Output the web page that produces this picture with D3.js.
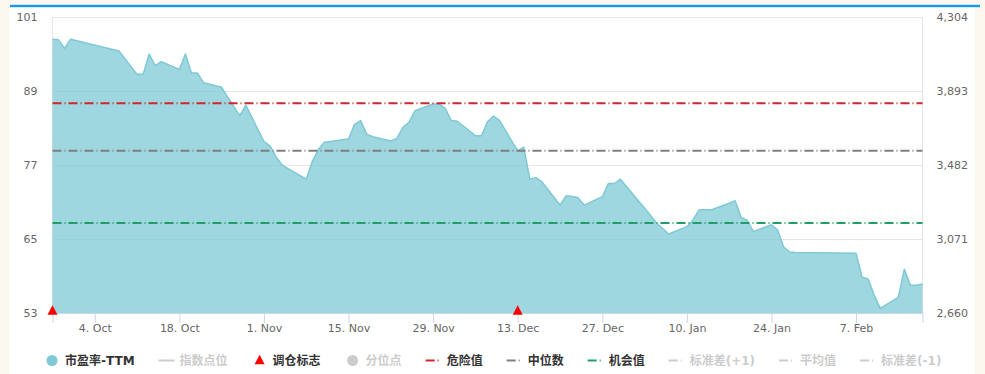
<!DOCTYPE html>
<html>
<head>
<meta charset="utf-8">
<script src="https://cdn.jsdelivr.net/npm/d3@7"></script>
<style>
  html, body { margin: 0; padding: 0; background: #fdf8ef; }
  svg { display: block; }
  text { font-family: "DejaVu Sans", "Noto Sans CJK SC", sans-serif; }
</style>
</head>
<body>
<svg id="chart" width="985" height="374"></svg>
<script>
// Trading days and PE-TTM readings
const tradeDates = [
  "2021-09-27","2021-09-28","2021-09-29","2021-09-30",
  "2021-10-08","2021-10-11","2021-10-12","2021-10-13","2021-10-14","2021-10-15",
  "2021-10-18","2021-10-19","2021-10-20","2021-10-21","2021-10-22",
  "2021-10-25","2021-10-26","2021-10-27","2021-10-28","2021-10-29",
  "2021-11-01","2021-11-02","2021-11-03","2021-11-04","2021-11-05",
  "2021-11-08","2021-11-09","2021-11-10","2021-11-11","2021-11-12",
  "2021-11-15","2021-11-16","2021-11-17","2021-11-18","2021-11-19",
  "2021-11-22","2021-11-23","2021-11-24","2021-11-25","2021-11-26",
  "2021-11-29","2021-11-30","2021-12-01","2021-12-02","2021-12-03",
  "2021-12-06","2021-12-07","2021-12-08","2021-12-09","2021-12-10",
  "2021-12-13","2021-12-14","2021-12-15","2021-12-16","2021-12-17",
  "2021-12-20","2021-12-21","2021-12-22","2021-12-23","2021-12-24",
  "2021-12-27","2021-12-28","2021-12-29","2021-12-30","2021-12-31",
  "2022-01-04","2022-01-05","2022-01-06","2022-01-07",
  "2022-01-10","2022-01-11","2022-01-12","2022-01-13","2022-01-14",
  "2022-01-17","2022-01-18","2022-01-19","2022-01-20","2022-01-21",
  "2022-01-24","2022-01-25","2022-01-26","2022-01-27","2022-01-28",
  "2022-02-07","2022-02-08","2022-02-09","2022-02-10","2022-02-11",
  "2022-02-14","2022-02-15","2022-02-16","2022-02-17","2022-02-18"
];
const peTTM = [
  97.4, 97.3, 95.9, 97.4,
  95.5, 91.7, 91.7, 95.0, 93.1, 93.75,
  92.5, 95.0, 91.9, 91.9, 90.35,
  89.6, 88.0, 86.5, 85.0, 86.7,
  80.8, 80.1, 78.3, 77.0, 76.4,
  74.7, 77.55, 79.5, 80.7, 80.8,
  81.2, 83.6, 84.2, 82.0, 81.6,
  80.9, 81.3, 83.1, 83.9, 85.8,
  86.9, 86.9, 86.2, 84.2, 84.1,
  81.75, 81.75, 84.0, 84.95, 84.2,
  79.3, 79.9, 74.7, 74.95, 74.3,
  70.5, 72.0, 71.9, 71.7, 70.5,
  71.85, 74.0, 74.0, 74.7, 73.5,
  68.8, 67.55, 66.7, 65.8,
  67.0, 68.1, 69.7, 69.8, 69.7,
  70.8, 71.2, 68.5, 68.0, 66.2,
  67.3, 66.5, 63.75, 62.9, 62.8,
  62.7, 58.8, 58.5, 55.9, 53.75,
  55.55, 60.1, 57.5, 57.5, 57.7
];

// Rebalance markers
const rebalanceDates = ["2021-09-27", "2021-12-13"];

// Reference levels: danger, median, opportunity
const refNames = ["危险值", "中位数", "机会值"];
const refValues = [87.0, 79.3, 67.6];

// Axis ticks
const peTicks = [53, 65, 77, 89, 101];
const indexTicks = [2660, 3071, 3482, 3893, 4304];
const dateTicks = ["2021-10-04","2021-10-18","2021-11-01","2021-11-15","2021-11-29",
                   "2021-12-13","2021-12-27","2022-01-10","2022-01-24","2022-02-07"];

// Legend entries
const legendNames = ["市盈率-TTM", "指数点位", "调仓标志", "分位点", "危险值",
                     "中位数", "机会值", "标准差(+1)", "平均值", "标准差(-1)"];

const parse = d3.timeParse("%Y-%m-%d");
const series = tradeDates.map((d, i) => ({ date: parse(d), v: peTTM[i] }));

const svg = d3.select("#chart");
const W = 985, H = 374;
const plot = { left: 52.5, right: 922.5, top: 17, bottom: 313 };

const seriesColor = "#7ec9d5";
const refColors = ["#cf252b", "#7f7f7f", "#1f9e68"];
const dashPattern = "9,3,1,3";
const hiddenColor = "#cccccc";

// page frame
svg.append("rect").attr("width", W).attr("height", H).attr("fill", "#fdf8ef");
svg.append("rect").attr("x", 9).attr("y", 7).attr("width", 966).attr("height", H - 7).attr("fill", "#ffffff");
svg.append("rect").attr("x", 10).attr("y", 4.8).attr("width", 970).attr("height", 2.4).attr("fill", "#169be3");

const x = d3.scaleTime()
  .domain([parse(tradeDates[0]), parse(tradeDates[tradeDates.length - 1])])
  .range([plot.left, plot.right]);
const y = d3.scaleLinear().domain([53, 101]).range([plot.bottom, plot.top]);
const yIdx = d3.scaleLinear().domain([2660, 4304]).range([plot.bottom, plot.top]);

// grid
svg.append("g").selectAll("line").data(peTicks).join("line")
  .attr("x1", plot.left).attr("x2", plot.right)
  .attr("y1", d => Math.round(y(d)) + 0.5).attr("y2", d => Math.round(y(d)) + 0.5)
  .attr("stroke", "#e6e6e6").attr("stroke-width", 1);
svg.append("line").attr("x1", plot.right).attr("x2", plot.right)
  .attr("y1", plot.top).attr("y2", plot.bottom).attr("stroke", "#e3e6ec");
svg.append("line").attr("x1", plot.left).attr("x2", plot.left)
  .attr("y1", plot.top).attr("y2", plot.bottom).attr("stroke", "#e6e6e6");

// area
const area = d3.area().x(d => x(d.date)).y0(y(53)).y1(d => y(d.v));
const line = d3.line().x(d => x(d.date)).y(d => y(d.v));
svg.append("path").datum(series).attr("d", area)
  .attr("fill", seriesColor).attr("fill-opacity", 0.75);
svg.append("path").datum(series).attr("d", line)
  .attr("fill", "none").attr("stroke", seriesColor).attr("stroke-width", 1.5)
  .attr("stroke-linejoin", "round");

// reference lines
svg.append("g").selectAll("line").data(refValues).join("line")
  .attr("x1", plot.left).attr("x2", plot.right)
  .attr("y1", d => y(d)).attr("y2", d => y(d))
  .attr("stroke", (d, i) => refColors[i]).attr("stroke-width", 2)
  .attr("stroke-dasharray", dashPattern);

// x axis
const xAxis = d3.axisBottom(x)
  .tickValues(dateTicks.map(parse))
  .tickFormat(d3.timeFormat("%-d. %b"))
  .tickSize(10).tickPadding(1.5);
const gx = svg.append("g").attr("transform", `translate(0,${plot.bottom})`).call(xAxis);
gx.select(".domain").attr("stroke", "#ccd6eb");
gx.selectAll(".tick line").attr("stroke", "#ccd6eb");
gx.selectAll("text").attr("fill", "#666").attr("font-size", 11)
  .attr("font-family", "DejaVu Sans, sans-serif");

// left axis
const gyl = svg.append("g").attr("transform", `translate(${plot.left - 15},0)`)
  .call(d3.axisLeft(y).tickValues(peTicks).tickSize(0).tickPadding(0));
gyl.select(".domain").remove();
gyl.selectAll("text").attr("fill", "#666").attr("font-size", 11)
  .attr("font-family", "DejaVu Sans, sans-serif");

// right axis
const gyr = svg.append("g").attr("transform", `translate(${plot.right + 14},0)`)
  .call(d3.axisRight(yIdx).tickValues(indexTicks).tickFormat(d3.format(",")).tickSize(0).tickPadding(0));
gyr.select(".domain").remove();
gyr.selectAll("text").attr("fill", "#666").attr("font-size", 11)
  .attr("font-family", "DejaVu Sans, sans-serif");

// rebalance markers
const tri = (cx, cy, w, h) => `M${cx},${cy - h * 0.65}L${cx + w / 2},${cy + h * 0.35}L${cx - w / 2},${cy + h * 0.35}Z`;
svg.append("g").selectAll("path").data(rebalanceDates).join("path")
  .attr("d", d => tri(x(parse(d)), y(53) - 1.5, 10, 9.5))
  .attr("fill", "#ff0000");

// legend
const legendKinds = ["circle", "line", "triangle", "circle", "dash", "dash", "dash", "dash", "dash", "dash"];
const legendColors = [seriesColor, hiddenColor, "#ff0000", hiddenColor, refColors[0], refColors[1], refColors[2],
                      hiddenColor, hiddenColor, hiddenColor];
const legendActive = [true, false, true, false, true, true, true, false, false, false];
const ly = 360.5;
const lg = svg.append("g");
const items = legendNames.map((name, i) => {
  const g = lg.append("g");
  const t = g.append("text").attr("x", 21).attr("y", ly).attr("dy", "0.36em")
    .attr("font-size", 12).attr("font-weight", "bold")
    .attr("fill", legendActive[i] ? "#333333" : hiddenColor).text(name);
  const k = legendKinds[i];
  if (k === "circle") {
    g.append("circle").attr("cx", 8).attr("cy", ly).attr("r", 5.5).attr("fill", legendColors[i]);
  } else if (k === "triangle") {
    g.append("path").attr("d", tri(8, ly + 0.5, 10, 9.5)).attr("fill", legendColors[i]);
  } else {
    g.append("line").attr("x1", 0).attr("x2", 16).attr("y1", ly).attr("y2", ly)
      .attr("stroke", legendColors[i]).attr("stroke-width", 2)
      .attr("stroke-dasharray", k === "dash" ? dashPattern : null);
  }
  return { g, w: 21 + t.node().getComputedTextLength() };
});
const gap = 24;
const total = d3.sum(items, d => d.w) + gap * (items.length - 1);
let cx = 492.7 - total / 2;
items.forEach(it => { it.g.attr("transform", `translate(${cx},0)`); cx += it.w + gap; });
</script>
</body>
</html>
